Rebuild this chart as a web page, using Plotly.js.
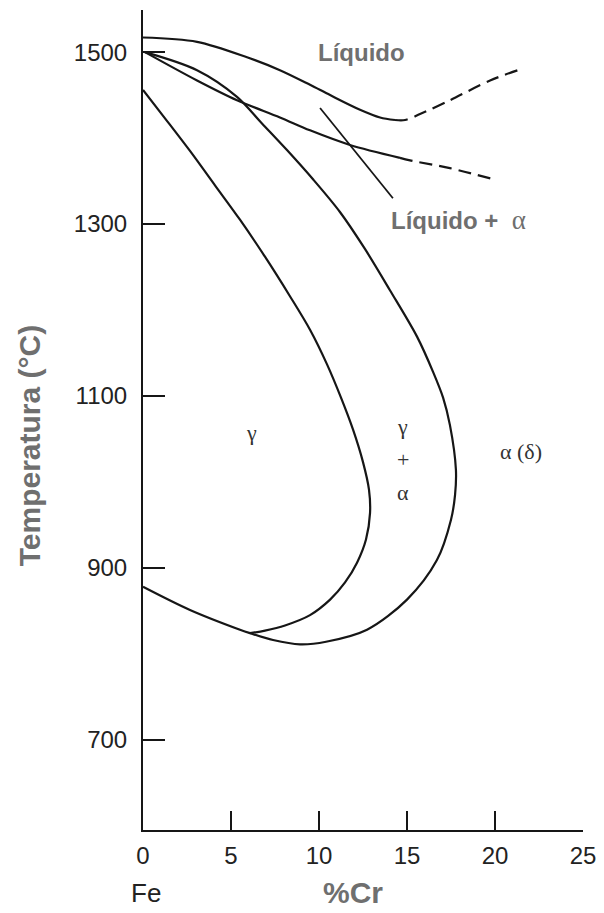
<!DOCTYPE html>
<html>
<head>
<meta charset="utf-8">
<script src="https://cdn.plot.ly/plotly-3.0.1.min.js"></script>
<style>html,body{margin:0;padding:0;background:#fff;}#chart{width:604px;height:913px;}</style>
</head>
<body>
<div id="chart"></div>
<script>
// Liquidus (solid part and extrapolated dashed part)
const liquidusCr   = [0.00, 3.07, 5.91, 7.78, 9.49, 10.63, 12.33, 13.47, 14.32];
const liquidusT    = [1517, 1512, 1494, 1479, 1462, 1450, 1433, 1424, 1421];
const liquidusDashCr = [14.32, 14.89, 15.74, 17.44, 19.72, 21.31];
const liquidusDashT  = [1421, 1421, 1428, 1444, 1467, 1479];
// Solidus
const solidusCr   = [0.11, 3.07, 5.34, 7.78, 9.49, 11.76, 14.60];
const solidusT    = [1500, 1467, 1444, 1424, 1409, 1392, 1377];
const solidusDashCr = [14.60, 15.17, 17.44, 20.11];
const solidusDashT  = [1377, 1374, 1365, 1351];
// Outer boundary of the gamma loop (alpha / gamma+alpha), continuing to Fe axis
const outerCr = [0.11, 3.07, 5.34, 6.76, 8.18, 9.66, 11.19, 12.61, 14.03, 15.57, 16.48, 17.05, 17.44, 17.78, 17.73, 17.50, 16.70, 15.00, 12.73, 10.40, 8.92, 7.39, 6.08, 5.51, 2.67, 0.00];
const outerT  = [1500, 1479, 1448, 1417, 1386, 1352, 1314, 1271, 1223, 1169, 1128, 1098, 1066, 1014, 985, 956, 909, 863, 828, 814, 811, 816, 824, 828, 851, 878];
// Inner boundary of the gamma loop (gamma / gamma+alpha)
const innerCr = [0.00, 1.25, 2.67, 4.09, 5.51, 6.93, 8.35, 9.49, 10.45, 11.25, 11.93, 12.50, 12.84, 12.90, 12.67, 12.16, 11.48, 10.63, 9.49, 8.07, 6.93, 6.08];
const innerT  = [1456, 1423, 1385, 1345, 1305, 1262, 1216, 1177, 1137, 1098, 1061, 1023, 991, 964, 933, 906, 883, 863, 845, 833, 827, 824];
// Short tie line
const tieCr = [10.06, 14.20];
const tieT  = [1435, 1330];

// Axis ticks
const xTicks = [0, 5, 10, 15, 20, 25];
const yTicks = [700, 900, 1100, 1300, 1500];

const lineColor = '#161616';
function tr(x, y, dash, w) {
  return {x: x, y: y, type: 'scatter', mode: 'lines', hoverinfo: 'skip',
    line: {color: lineColor, width: w || 2.2, shape: 'spline', smoothing: 0.9, dash: dash || 'solid'}};
}
const data = [
  tr(liquidusCr, liquidusT),
  tr(liquidusDashCr, liquidusDashT, '13px,7px'),
  tr(solidusCr, solidusT),
  tr(solidusDashCr, solidusDashT, '13px,7px'),
  tr(outerCr, outerT),
  tr(innerCr, innerT),
  tr(tieCr, tieT, 'solid', 1.8)
];

const grey = '#6f6f6f';
const greek = {family: '"Liberation Serif", "DejaVu Serif", serif', size: 22, color: '#333'};
const layout = {
  width: 604, height: 913,
  margin: {l: 143, r: 21, t: 10, b: 83},
  paper_bgcolor: '#fff', plot_bgcolor: '#fff',
  showlegend: false,
  font: {family: '"Liberation Sans", Arial, sans-serif', color: '#222'},
  xaxis: {range: [0, 25], tickvals: xTicks, ticktext: xTicks.map(String),
    ticks: 'inside', ticklen: 19, tickwidth: 2, tickcolor: lineColor,
    showline: true, linewidth: 2, linecolor: lineColor, showgrid: false, zeroline: false,
    tickfont: {size: 24, color: '#222'}, ticklabelstandoff: 3, fixedrange: true},
  yaxis: {range: [595, 1549], tickvals: yTicks, ticktext: yTicks.map(String),
    ticks: 'inside', ticklen: 22, tickwidth: 2, tickcolor: lineColor,
    showline: true, linewidth: 2, linecolor: lineColor, showgrid: false, zeroline: false,
    tickfont: {size: 24, color: '#222'}, ticklabelstandoff: 9, fixedrange: true},
  annotations: [
    {text: 'Temperatura (°C)', xref: 'paper', yref: 'paper', x: -0.259, y: 0.468,
     textangle: -90, showarrow: false, xanchor: 'center', yanchor: 'middle',
     font: {size: 30, color: grey, family: '"Liberation Sans", Arial, sans-serif', weight: 'bold'}},
    {text: '<b>%Cr</b>', xref: 'paper', yref: 'paper', x: 0.477, y: -0.0768,
     showarrow: false, xanchor: 'center', yanchor: 'middle', font: {size: 30, color: grey}},
    {text: 'Fe', xref: 'paper', yref: 'paper', x: 0.0068, y: -0.0768,
     showarrow: false, xanchor: 'center', yanchor: 'middle', font: {size: 26, color: '#222'}},
    {text: '<b>Líquido</b>', xref: 'x', yref: 'y', x: 12.44, y: 1499,
     showarrow: false, xanchor: 'center', yanchor: 'middle', font: {size: 24, color: grey}},
    {text: '<b>Líquido +  </b><span style="font-family:Liberation Serif;font-size:27px">α</span>', xref: 'x', yref: 'y', x: 17.9, y: 1305,
     showarrow: false, xanchor: 'center', yanchor: 'middle', font: {size: 24, color: grey}},
    {text: 'γ', xref: 'x', yref: 'y', x: 6.19, y: 1058, showarrow: false, font: greek},
    {text: 'γ', xref: 'x', yref: 'y', x: 14.77, y: 1064, showarrow: false, font: greek},
    {text: '+', xref: 'x', yref: 'y', x: 14.77, y: 1026, showarrow: false, font: greek},
    {text: 'α', xref: 'x', yref: 'y', x: 14.77, y: 988, showarrow: false, font: greek},
    {text: 'α (δ)', xref: 'x', yref: 'y', x: 21.48, y: 1035, showarrow: false, font: greek}
  ]
};
Plotly.newPlot('chart', data, layout, {staticPlot: true, displayModeBar: false});
</script>
</body>
</html>
